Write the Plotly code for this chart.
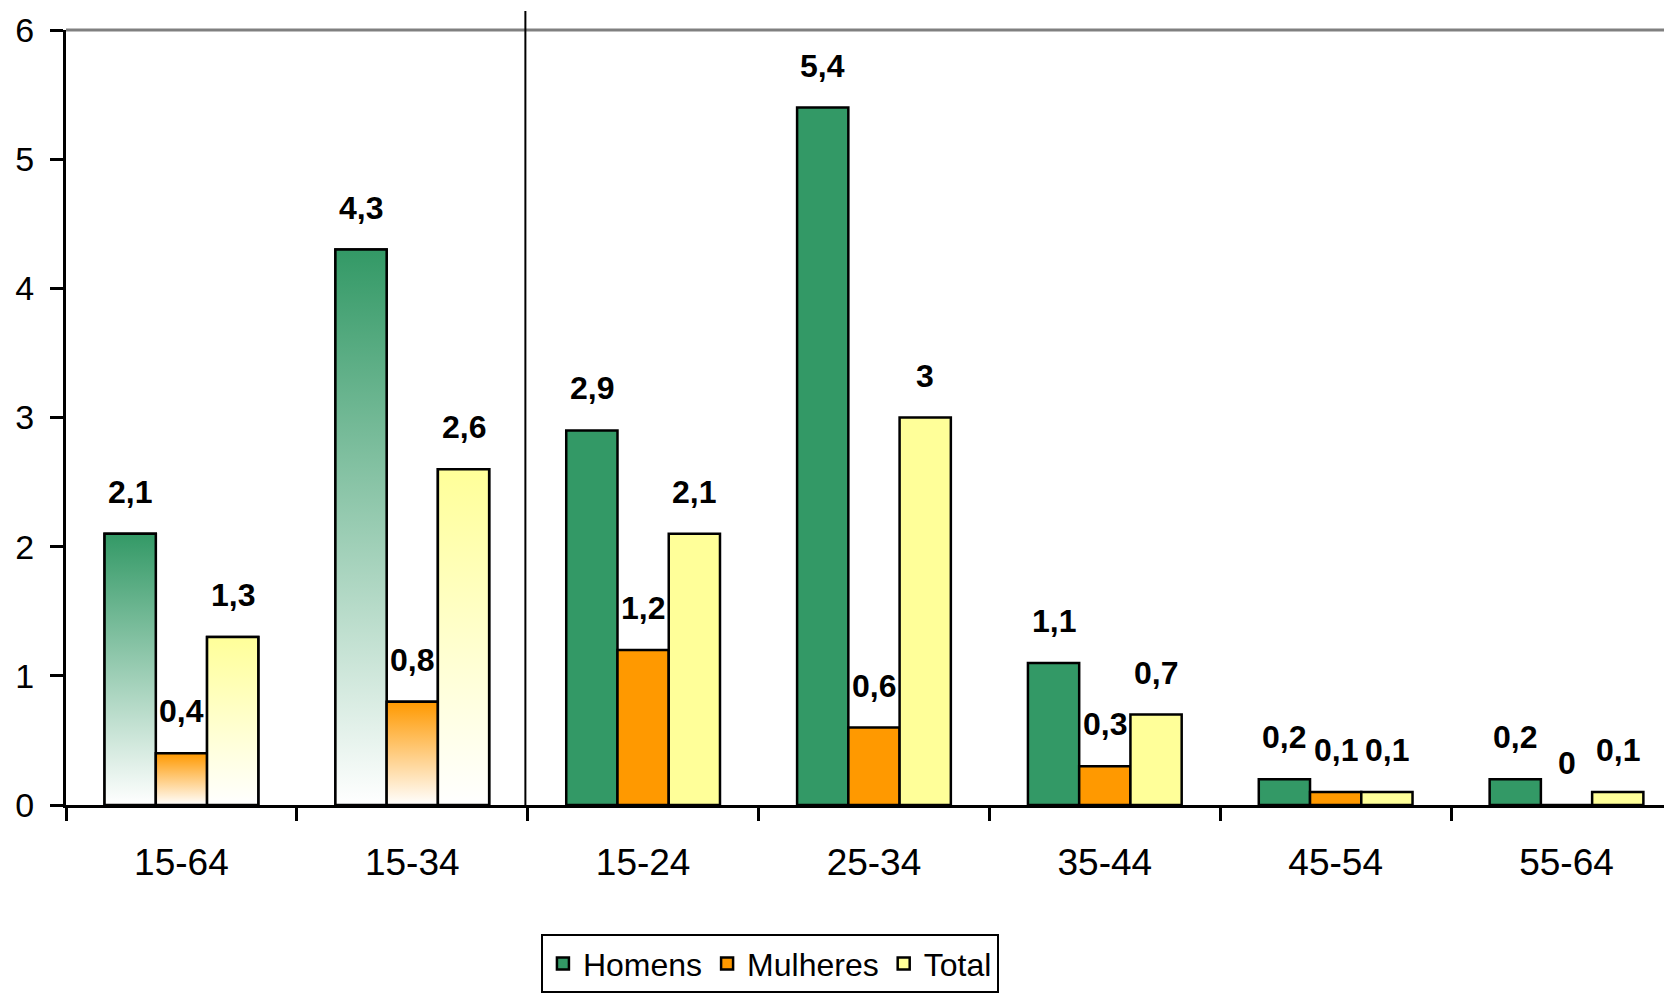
import plotly.graph_objects as go

categories = ["15-64", "15-34", "15-24", "25-34", "35-44", "45-54", "55-64"]
homens = [2.1, 4.3, 2.9, 5.4, 1.1, 0.2, 0.2]
mulheres = [0.4, 0.8, 1.2, 0.6, 0.3, 0.1, 0]
total = [1.3, 2.6, 2.1, 3.0, 0.7, 0.1, 0.1]
series_names = ["Homens", "Mulheres", "Total"]
series_values = [homens, mulheres, total]
series_colors = ["#339966", "#FF9900", "#FFFF99"]
gradient_categories = ["15-64", "15-34"]
y_ticks = [0, 1, 2, 3, 4, 5, 6]

FONT = "Arial, Liberation Sans, Helvetica, sans-serif"
BAR_W = 0.222
offsets = [-1.5 * BAR_W, -0.5 * BAR_W, 0.5 * BAR_W]
xpos = list(range(len(categories)))


def fmt(v):
    return f"{v:g}".replace(".", ",")


fig = go.Figure()

# solid bars (also provide legend entries)
for name, vals, col, off in zip(series_names, series_values, series_colors, offsets):
    fig.add_trace(go.Bar(
        x=xpos, y=vals, name=name, width=BAR_W, offset=off,
        marker=dict(color=col, line=dict(color="black", width=2.5)),
        hoverinfo="skip",
    ))

# gradient-filled bars for the first two groups
for name, vals, col, off in zip(series_names, series_values, series_colors, offsets):
    for i, cat in enumerate(categories):
        if cat not in gradient_categories:
            continue
        v = vals[i]
        x0 = i + off
        x1 = x0 + BAR_W
        fig.add_trace(go.Scatter(
            x=[x0, x1, x1, x0, x0], y=[0, 0, v, v, 0],
            mode="lines", fill="toself",
            fillgradient=dict(type="vertical", colorscale=[[0, "white"], [1, col]],
                              start=0, stop=v),
            line=dict(color="black", width=2.5),
            showlegend=False, hoverinfo="skip",
        ))

# value labels
for vals, off in zip(series_values, offsets):
    for i, v in enumerate(vals):
        fig.add_annotation(
            x=i + off + BAR_W / 2, y=v, text=fmt(v), showarrow=False,
            yanchor="middle", yshift=42,
            font=dict(size=32, family=FONT, color="black", weight="bold"),
        )

fig.add_shape(type="line", xref="paper", yref="paper", x0=0, x1=1, y0=1, y1=1,
              line=dict(color="#808080", width=3))
fig.add_shape(type="line", xref="x", yref="paper", x0=1.49, x1=1.49, y0=0, y1=1.0245,
              line=dict(color="black", width=2))

fig.update_layout(
    width=1672, height=997,
    margin=dict(l=58, r=8, t=22, b=200),
    plot_bgcolor="white", paper_bgcolor="white",
    font=dict(family=FONT, color="black"),
    showlegend=True,
    legend=dict(
        orientation="h", xref="container", yref="container",
        x=0.4557, xanchor="center", y=0.071, yanchor="top",
        bordercolor="black", borderwidth=2, bgcolor="white",
        font=dict(size=32, family=FONT, color="black"),
    ),
)

fig.update_xaxes(
    range=[-0.5, 6.457], automargin=False,
    tickmode="array", tickvals=xpos, ticktext=categories,
    ticks="", ticklabelstandoff=23,
    tickfont=dict(size=37, family=FONT, color="black"),
    showline=True, linecolor="black", linewidth=3,
    showgrid=False, zeroline=False,
    minor=dict(tickmode="array", tickvals=[k - 0.5 for k in range(len(categories) + 1)],
               ticks="outside", ticklen=13, tickwidth=2.5, tickcolor="black"),
)
fig.update_yaxes(
    range=[0, 6], tickmode="array", tickvals=y_ticks, automargin=False,
    ticks="outside", ticklen=13, tickwidth=2.5, tickcolor="black",
    ticklabelstandoff=9,
    tickfont=dict(size=34, family=FONT, color="black"),
    showline=True, linecolor="black", linewidth=3,
    showgrid=False, zeroline=False,
)

fig.write_html("out.html")
